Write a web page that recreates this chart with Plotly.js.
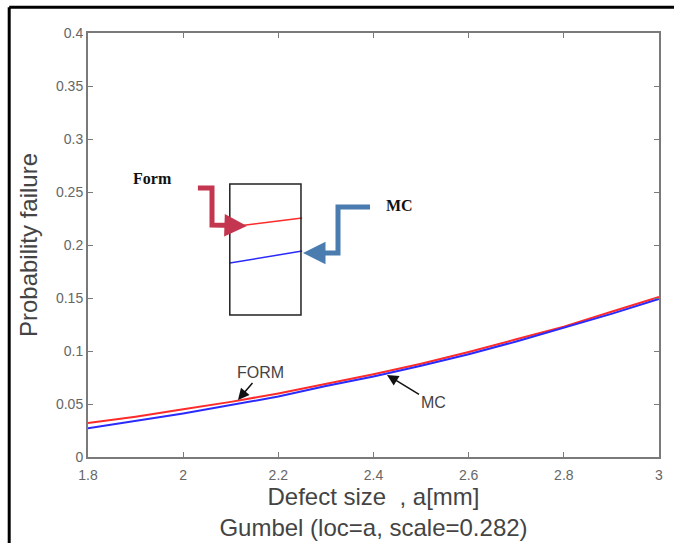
<!DOCTYPE html>
<html>
<head>
<meta charset="utf-8">
<script src="https://cdn.plot.ly/plotly-3.0.1.min.js"></script>
<style>html,body{margin:0;padding:0;background:#fff}#chart{width:674px;height:543px}</style>
</head>
<body>
<div id="chart"></div>
<script>
// Defect size a [mm]
const defectSize = [1.8, 1.9, 2.0, 2.1, 2.2, 2.3, 2.4, 2.5, 2.6, 2.7, 2.8, 2.9, 3.0];
// Probability of failure, FORM (red) and Monte Carlo (blue)
const pfForm = [0.032, 0.038, 0.045, 0.052, 0.060, 0.069, 0.078, 0.088, 0.099, 0.111, 0.123, 0.137, 0.151];
const pfMC   = [0.027, 0.034, 0.041, 0.049, 0.057, 0.067, 0.076, 0.086, 0.097, 0.109, 0.122, 0.135, 0.149];
// Zoom-inset segments
const zoomX    = [2.098, 2.250];
const zoomForm = [0.217, 0.2255];
const zoomMC   = [0.183, 0.1943];
// Axis ticks
const xTicks = [1.8, 2.0, 2.2, 2.4, 2.6, 2.8, 3.0];
const xTickText = ['1.8', '2', '2.2', '2.4', '2.6', '2.8', '3'];
const yTicks = [0, 0.05, 0.1, 0.15, 0.2, 0.25, 0.3, 0.35, 0.4];
const yTickText = ['0', '0.05', '0.1', '0.15', '0.2', '0.25', '0.3', '0.35', '0.4'];

const traces = [
  {x: defectSize, y: pfForm, mode: 'lines', line: {color: '#ff2a2a', width: 2}, name: 'FORM'},
  {x: defectSize, y: pfMC, mode: 'lines', line: {color: '#2a2aff', width: 2}, name: 'MC'},
  {x: zoomX, y: zoomForm, mode: 'lines', line: {color: '#ff2a2a', width: 1.5}},
  {x: zoomX, y: zoomMC, mode: 'lines', line: {color: '#2a2aff', width: 1.5}}
];

const axisCommon = {
  showgrid: false, zeroline: false, showline: true, linecolor: '#7a7a7a', linewidth: 2,
  mirror: 'ticks', ticks: 'inside', ticklen: 5, tickcolor: '#7a7a7a', tickwidth: 1,
  tickfont: {family: 'Liberation Sans, Arial', size: 14, color: '#666'}
};

const layout = {
  width: 674, height: 543,
  margin: {l: 88, r: 15, t: 33, b: 86},
  paper_bgcolor: '#fff', plot_bgcolor: '#fff',
  showlegend: false,
  xaxis: Object.assign({}, axisCommon, {
    range: [1.8, 3], tickvals: xTicks, ticktext: xTickText, ticklabelstandoff: 4,
    title: {text: 'Defect size  , a[mm]<br>Gumbel (loc=a, scale=0.282)',
            font: {family: 'Liberation Sans, Arial', size: 24, color: '#444'}, standoff: 2}
  }),
  yaxis: Object.assign({}, axisCommon, {
    range: [0, 0.4], tickvals: yTicks, ticktext: yTickText,
    title: {text: 'Probability failure', font: {family: 'Liberation Sans, Arial', size: 24, color: '#444'}, standoff: 12}
  }),
  shapes: [
    {type: 'rect', xref: 'x', yref: 'y', x0: 2.098, x1: 2.2476, y0: 0.134, y1: 0.2575,
     line: {color: '#222', width: 1.5}},
    {type: 'path', xref: 'x', yref: 'y', path: 'M 2.031 0.2538 L 2.0606 0.2538 L 2.0606 0.2189 L 2.11 0.2185',
     line: {color: '#c4354f', width: 5}},
    {type: 'path', xref: 'x', yref: 'y', path: 'M 2.3927 0.2358 L 2.3254 0.2358 L 2.3254 0.1925 L 2.275 0.1925',
     line: {color: '#4a7cb0', width: 5}},
    {type: 'line', xref: 'paper', yref: 'paper', x0: -0.138, x1: 1.03, y0: 1.061, y1: 1.061,
     line: {color: '#000', width: 3}},
    {type: 'line', xref: 'paper', yref: 'paper', x0: -0.138, x1: -0.138, y0: 1.061, y1: -0.21,
     line: {color: '#000', width: 3}}
  ],
  annotations: [
    {x: 2.134, y: 0.2179, ax: 2.105, ay: 0.2183, axref: 'x', ayref: 'y', xref: 'x', yref: 'y', text: '',
     showarrow: true, arrowhead: 2, arrowsize: 0.9, arrowwidth: 5, arrowcolor: '#c4354f'},
    {x: 2.2518, y: 0.1925, ax: 2.28, ay: 0.1925, axref: 'x', ayref: 'y', xref: 'x', yref: 'y', text: '',
     showarrow: true, arrowhead: 2, arrowsize: 0.9, arrowwidth: 5, arrowcolor: '#4a7cb0'},
    {x: 1.935, y: 0.2623, xref: 'x', yref: 'y', text: '<b>Form</b>', showarrow: false,
     font: {family: 'Liberation Serif, Times New Roman', size: 16, color: '#111'}},
    {x: 2.455, y: 0.237, xref: 'x', yref: 'y', text: '<b>MC</b>', showarrow: false,
     font: {family: 'Liberation Serif, Times New Roman', size: 16, color: '#111'}},
    {x: 2.1152, y: 0.0538, xref: 'x', yref: 'y', ax: 23, ay: -27, text: 'FORM', showarrow: true,
     arrowhead: 2, arrowsize: 1.5, arrowwidth: 1.5, arrowcolor: '#111',
     font: {family: 'Liberation Sans, Arial', size: 16, color: '#444'}},
    {x: 2.4284, y: 0.0774, xref: 'x', yref: 'y', ax: 46, ay: 28, text: 'MC', showarrow: true,
     arrowhead: 2, arrowsize: 1.5, arrowwidth: 1.5, arrowcolor: '#111',
     font: {family: 'Liberation Sans, Arial', size: 16, color: '#444'}}
  ]
};

Plotly.newPlot('chart', traces, layout, {displayModeBar: false, staticPlot: true});
</script>
</body>
</html>
